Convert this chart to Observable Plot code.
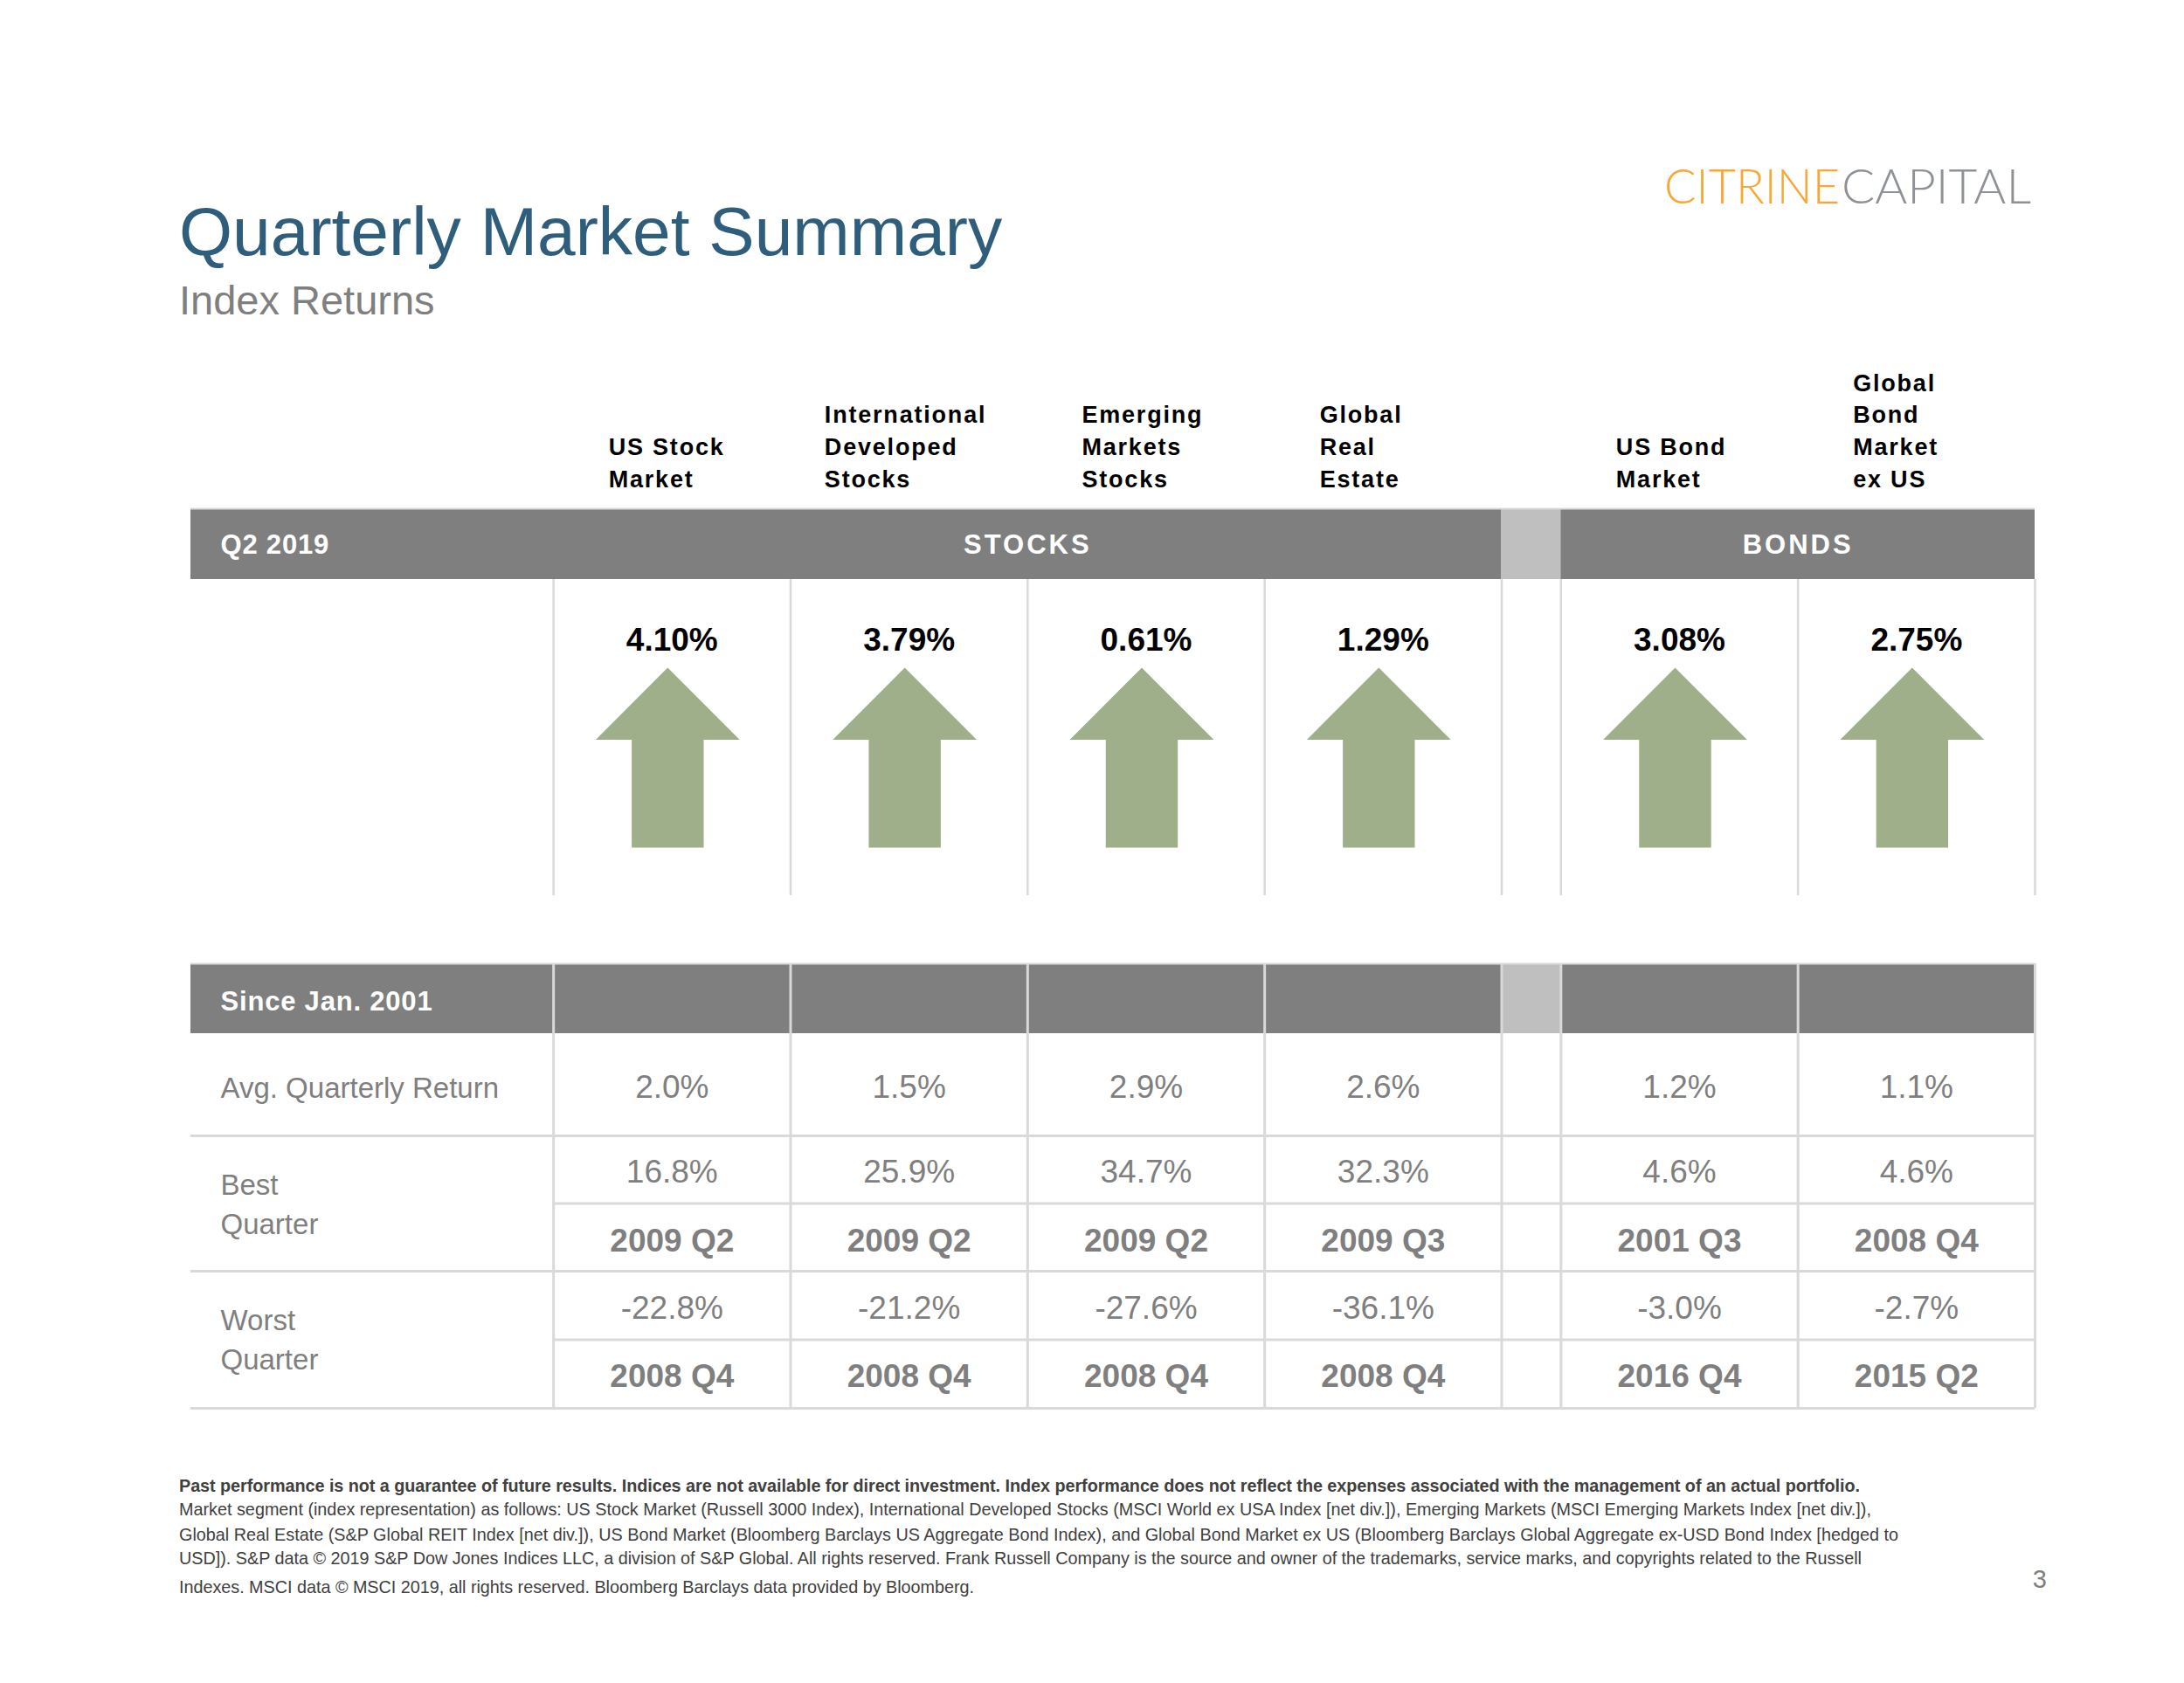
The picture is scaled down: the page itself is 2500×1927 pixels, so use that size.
<!DOCTYPE html>
<html>
<head>
<meta charset="utf-8">
<script src="https://cdn.jsdelivr.net/npm/d3@7"></script>
<script src="https://cdn.jsdelivr.net/npm/@observablehq/plot@0.6"></script>
<style>
html,body{margin:0;padding:0;background:#fff;}
body{width:2500px;height:1927px;position:relative;overflow:hidden;font-family:'Liberation Sans',Arial,Helvetica,sans-serif;}
.abs{position:absolute;white-space:nowrap;line-height:1;}
#title{left:205px;top:226px;font-size:78.5px;color:#2F5D7C;}
#subtitle{left:205px;top:320px;font-size:47px;color:#7F7F7F;}
#logo{position:absolute;left:1880px;top:170px;}
#chart{position:absolute;left:0;top:380px;}
.fn{position:absolute;left:205px;white-space:nowrap;line-height:1;font-size:19.8px;color:#404040;}
#page{position:absolute;right:157px;top:1794px;font-size:29px;line-height:1;color:#7F7F7F;}
</style>
</head>
<body>
<div id="title" class="abs">Quarterly Market Summary</div>
<div id="subtitle" class="abs">Index Returns</div>
<svg id="logo" width="480" height="90">
  <text x="25" y="63" font-family="Lato, 'Open Sans', sans-serif" font-weight="300" font-size="56" fill="#F5A833" textLength="201" lengthAdjust="spacingAndGlyphs">CITRINE</text>
  <text x="228" y="63" font-family="Lato, 'Open Sans', sans-serif" font-weight="300" font-size="56" fill="#8E9195" textLength="217" lengthAdjust="spacingAndGlyphs">CAPITAL</text>
</svg>
<div id="chart"></div>
<div class="fn" data-w="1924" style="top:1692px;font-weight:bold;">Past performance is not a guarantee of future results. Indices are not available for direct investment. Index performance does not reflect the expenses associated with the management of an actual portfolio.</div>
<div class="fn" data-w="1937" style="top:1719px;">Market segment (index representation) as follows: US Stock Market (Russell 3000 Index), International Developed Stocks (MSCI World ex USA Index [net div.]), Emerging Markets (MSCI Emerging Markets Index [net div.]),</div>
<div class="fn" data-w="1968" style="top:1748px;">Global Real Estate (S&amp;P Global REIT Index [net div.]), US Bond Market (Bloomberg Barclays US Aggregate Bond Index), and Global Bond Market ex US (Bloomberg Barclays Global Aggregate ex-USD Bond Index [hedged to</div>
<div class="fn" data-w="1926" style="top:1775px;">USD]). S&amp;P data © 2019 S&amp;P Dow Jones Indices LLC, a division of S&amp;P Global. All rights reserved. Frank Russell Company is the source and owner of the trademarks, service marks, and copyrights related to the Russell</div>
<div class="fn" data-w="910" style="top:1808px;">Indexes. MSCI data © MSCI 2019, all rights reserved. Bloomberg Barclays data provided by Bloomberg.</div>
<div id="page">3</div>
<script>
// ---------------- DATA ----------------
const columns = ["US Stock\nMarket", "International\nDeveloped\nStocks", "Emerging\nMarkets\nStocks", "Global\nReal\nEstate", "US Bond\nMarket", "Global\nBond\nMarket\nex US"];
const assetClass = ["STOCKS", "STOCKS", "STOCKS", "STOCKS", "BONDS", "BONDS"];
const q2Return = [4.10, 3.79, 0.61, 1.29, 3.08, 2.75];
const avgQuarterly = [2.0, 1.5, 2.9, 2.6, 1.2, 1.1];
const bestQuarter = [16.8, 25.9, 34.7, 32.3, 4.6, 4.6];
const bestQuarterDate = ["2009 Q2", "2009 Q2", "2009 Q2", "2009 Q3", "2001 Q3", "2008 Q4"];
const worstQuarter = [-22.8, -21.2, -27.6, -36.1, -3.0, -2.7];
const worstQuarterDate = ["2008 Q4", "2008 Q4", "2008 Q4", "2008 Q4", "2016 Q4", "2015 Q2"];
const periodLabels = ["Q2 2019", "Since Jan. 2001"];
const rowLabels = ["Avg. Quarterly Return", "Best\nQuarter", "Worst\nQuarter"];

// ---------------- LAYOUT ----------------
const FONT = "'Liberation Sans', Arial, Helvetica, sans-serif";
const TOP = 380, H = 1260, W = 2500;
const TABLE_LEFT = 218, TABLE_RIGHT = 2329;
const LABEL_UNITS = 1.53, GAP_UNITS = 0.25;
const HEAD_SPACING = 1.8;
const L = {
  headBase: 557, headLine: 1.356,
  bar1: [582, 663], body1End: 1025,
  q2Base: 744, arrowY: 867,
  bar2: [1103, 1183],
  rowsFull: [1300, 1455, 1612], rowsSub: [1377.5, 1533.5],
  barBase1: 633, barBase2: 1156,
  avgBase: 1256, bestBase: 1353, bestDateBase: 1432, worstBase: 1509, worstDateBase: 1587,
  bestLabelBase: 1412, worstLabelBase: 1567,
};
const GRID = "#D9D9D9", BAR = "#7F7F7F", GAPC = "#BFBFBF", TXT = "#7F7F7F";

const colLeft = (i) => i + (assetClass.slice(0, i + 1).some((g, k) => k > 0 && g !== assetClass[k - 1]) ? GAP_UNITS : 0);
const cols = columns.map((name, i) => ({
  name, i, group: assetClass[i], left: colLeft(i), center: colLeft(i) + 0.5,
  q2: q2Return[i], avg: avgQuarterly[i], best: bestQuarter[i], bestDate: bestQuarterDate[i],
  worst: worstQuarter[i], worstDate: worstQuarterDate[i]
}));
const xMax = d3.max(cols, d => d.left + 1);
const unitPx = (TABLE_RIGHT - TABLE_LEFT) / (xMax + LABEL_UNITS);

// header text left offset from measured width
const ctx = document.createElement("canvas").getContext("2d");
ctx.font = `bold 27px ${FONT}`;
cols.forEach(d => {
  const lines = d.name.split("\n");
  const w = d3.max(lines, s => ctx.measureText(s).width + HEAD_SPACING * (s.length - 1));
  const off = Math.min(63, (unitPx - w) / 2 - 5);
  d.headX = d.left + off / unitPx;
});

const groups = d3.groups(cols, d => d.group).map(([g, arr]) => ({
  group: g, x1: d3.min(arr, d => d.left), x2: d3.max(arr, d => d.left + 1)
}));
groups.forEach(g => g.center = (g.x1 + g.x2) / 2);
const segments = [];
groups.forEach((g, k) => {
  segments.push({x1: k === 0 ? -LABEL_UNITS : g.x1, x2: g.x2, fill: BAR});
  if (k < groups.length - 1) segments.push({x1: g.x2, x2: groups[k + 1].x1, fill: GAPC});
});
const bars = [L.bar1, L.bar2].flatMap(([y1, y2]) => segments.map(s => ({...s, y1, y2})));
const edges = Array.from(new Set(cols.flatMap(d => [d.left, d.left + 1]))).sort((a, b) => a - b);

const arrowSymbol = {
  draw(context, size) {
    const r = Math.sqrt(size / Math.PI);
    const hb = (-1 + 0.80) * r, hw = 0.80 * r, sw = 0.40 * r;
    context.moveTo(0, -r);
    context.lineTo(hw, hb);
    context.lineTo(sw, hb);
    context.lineTo(sw, r);
    context.lineTo(-sw, r);
    context.lineTo(-sw, hb);
    context.lineTo(-hw, hb);
    context.closePath();
  }
};

const pct1 = v => v.toFixed(1) + "%";
const pct2 = v => v.toFixed(2) + "%";
const c = (v) => () => v;

const plot = Plot.plot({
  width: W, height: H,
  margin: 0,
  style: {fontFamily: FONT, background: "transparent", overflow: "visible"},
  x: {type: "linear", domain: [-LABEL_UNITS, xMax], range: [TABLE_LEFT, TABLE_RIGHT], axis: null},
  y: {type: "linear", domain: [TOP, TOP + H], range: [0, H], axis: null},
  marks: [
    // header bars
    Plot.rect(bars, {x1: "x1", x2: "x2", y1: "y1", y2: "y2", fill: "fill"}),
    Plot.ruleY([L.bar1[0], L.bar2[0]], {x1: -LABEL_UNITS, x2: xMax, y: d => d, stroke: GRID, strokeWidth: 2}),
    // vertical grid lines
    Plot.ruleX(edges, {x: d => d, y1: c(L.bar1[1]), y2: c(L.body1End), stroke: GRID, strokeWidth: 2.5}),
    Plot.ruleX(edges, {x: d => d, y1: c(L.bar2[0]), y2: c(L.rowsFull[2]), stroke: GRID, strokeWidth: 3}),
    // horizontal grid lines
    Plot.ruleY(L.rowsFull, {x1: -LABEL_UNITS, x2: xMax, y: d => d, stroke: GRID, strokeWidth: 3}),
    Plot.ruleY(L.rowsSub, {x1: 0, x2: xMax, y: d => d, stroke: GRID, strokeWidth: 3}),
    // column headers
    Plot.text(cols, {x: "headX", y: c(L.headBase), text: "name", textAnchor: "start", lineAnchor: "bottom",
      lineHeight: L.headLine, fontSize: 27, fontWeight: "bold", fill: "#000", fontFamily: FONT}),
    // bar labels
    Plot.text(groups, {x: "center", y: c(L.barBase1), text: "group", textAnchor: "middle", lineAnchor: "bottom",
      fontSize: 31, fontWeight: "bold", fill: "#fff", fontFamily: FONT}),
    Plot.text(periodLabels, {x: -LABEL_UNITS, y: (d, i) => i === 0 ? L.barBase1 : L.barBase2, text: d => d, dx: 34,
      textAnchor: "start", lineAnchor: "bottom", fontSize: 31, fontWeight: "bold", fill: "#fff", fontFamily: FONT}),
    // Q2 returns
    Plot.text(cols, {x: "center", y: c(L.q2Base), text: d => pct2(d.q2), textAnchor: "middle", lineAnchor: "bottom",
      fontSize: 37, fontWeight: "bold", fill: "#000", fontFamily: FONT}),
    Plot.dot(cols, {x: "center", y: c(L.arrowY), r: 103, symbol: arrowSymbol, fill: "#9EAF8A",
      rotate: d => d.q2 >= 0 ? 0 : 180, dx: -5}),
    // row labels
    Plot.text(rowLabels, {x: -LABEL_UNITS, y: (d, i) => [L.avgBase, L.bestLabelBase, L.worstLabelBase][i], text: d => d, dx: 34,
      textAnchor: "start", lineAnchor: "bottom", lineHeight: 1.35, fontSize: 33, fill: TXT, fontFamily: FONT}),
    // since 2001 stats
    Plot.text(cols, {x: "center", y: c(L.avgBase), text: d => pct1(d.avg), textAnchor: "middle", lineAnchor: "bottom",
      fontSize: 37, fill: TXT, fontFamily: FONT}),
    Plot.text(cols, {x: "center", y: c(L.bestBase), text: d => pct1(d.best), textAnchor: "middle", lineAnchor: "bottom",
      fontSize: 37, fill: TXT, fontFamily: FONT}),
    Plot.text(cols, {x: "center", y: c(L.bestDateBase), text: "bestDate", textAnchor: "middle", lineAnchor: "bottom",
      fontSize: 37, fontWeight: "bold", fill: TXT, fontFamily: FONT}),
    Plot.text(cols, {x: "center", y: c(L.worstBase), text: d => pct1(d.worst), textAnchor: "middle", lineAnchor: "bottom",
      fontSize: 37, fill: TXT, fontFamily: FONT}),
    Plot.text(cols, {x: "center", y: c(L.worstDateBase), text: "worstDate", textAnchor: "middle", lineAnchor: "bottom",
      fontSize: 37, fontWeight: "bold", fill: TXT, fontFamily: FONT})
  ]
});
document.getElementById("chart").appendChild(plot);

// letter spacing for header-style texts (by font size / anchor of the mark group)
d3.select(plot).selectAll("g").each(function() {
  const fs = this.getAttribute("font-size") || this.style.fontSize;
  const ta = this.getAttribute("text-anchor") || this.style.textAnchor;
  const size = parseFloat(fs);
  if (size === 27) this.style.letterSpacing = HEAD_SPACING + "px";
  else if (size === 31 && ta === "start") this.style.letterSpacing = "0.8px";
  else if (size === 31) this.style.letterSpacing = "3px";
});

// fit footnote lines to the reference line widths
document.querySelectorAll(".fn").forEach(el => {
  const target = +el.dataset.w;
  const w = el.getBoundingClientRect().width;
  const n = el.textContent.length;
  if (n > 1) el.style.letterSpacing = ((target - w) / (n - 1)).toFixed(3) + "px";
});
</script>
</body>
</html>
